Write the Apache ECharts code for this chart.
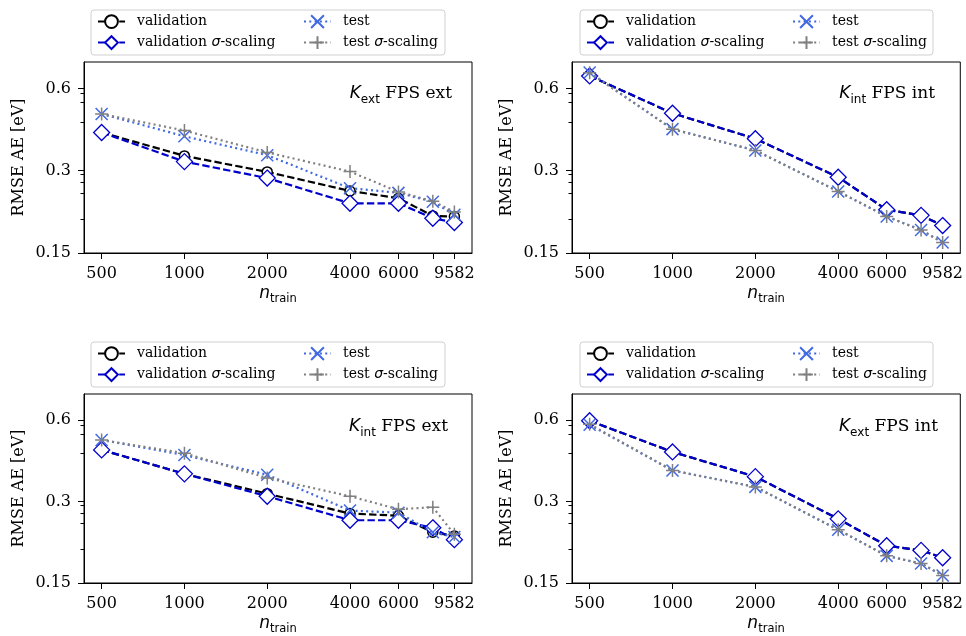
<!DOCTYPE html>
<html>
<head>
<meta charset="utf-8">
<title>RMSE AE learning curves</title>
<script src="https://cdn.jsdelivr.net/npm/echarts@6/dist/echarts.min.js"></script>
<style>
  html, body { margin: 0; padding: 0; background: #fff; }
  #chart { width: 966px; height: 636px; }
</style>
</head>
<body>
<div id="chart"></div>
<script>
// Training set sizes
const nTrain = [500, 1000, 2000, 4000, 6000, 8000, 9582];

// Axis ticks and labels
const xTickValues = [500, 1000, 2000, 4000, 6000, 8000, 9582];
const xLabelValues = [500, 1000, 2000, 4000, 6000, 9582];
const yTickValues = [0.15, 0.3, 0.6];
const yMinorTicks = [0.575, 0.533, 0.451, 0.292, 0.272, 0.249, 0.2];
const xRange = [431.4, 11106];
const yRange = [0.15, 0.75];

// Series names
const seriesNames = ['validation', 'validation σ-scaling', 'test', 'test σ-scaling'];

// Panel titles: [kernel subscript, split label]
const panelKernel = ['ext', 'int', 'int', 'ext'];
const panelSplit = ['FPS ext', 'FPS int', 'FPS ext', 'FPS int'];

// RMSE AE [eV] — K_ext, FPS ext
const extExtVal      = [0.414, 0.340, 0.297, 0.253, 0.238, 0.205, 0.204];
const extExtValSigma = [0.414, 0.324, 0.282, 0.228, 0.228, 0.201, 0.194];
const extExtTest     = [0.484, 0.401, 0.342, 0.259, 0.249, 0.231, 0.207];
const extExtTestSigma= [0.484, 0.421, 0.350, 0.298, 0.251, 0.232, 0.212];

// RMSE AE [eV] — K_int, FPS int
const intIntVal      = [0.667, 0.487, 0.393, 0.284, 0.216, 0.206, 0.189];
const intIntValSigma = [0.667, 0.487, 0.393, 0.284, 0.216, 0.206, 0.189];
const intIntTest     = [0.687, 0.426, 0.356, 0.252, 0.204, 0.182, 0.164];
const intIntTestSigma= [0.685, 0.426, 0.356, 0.252, 0.204, 0.182, 0.164];

// RMSE AE [eV] — K_int, FPS ext
const intExtVal      = [0.466, 0.380, 0.321, 0.271, 0.266, 0.231, 0.224];
const intExtValSigma = [0.466, 0.380, 0.314, 0.256, 0.256, 0.240, 0.217];
const intExtTest     = [0.507, 0.446, 0.377, 0.278, 0.273, 0.231, 0.222];
const intExtTestSigma= [0.507, 0.453, 0.367, 0.314, 0.281, 0.286, 0.227];

// RMSE AE [eV] — K_ext, FPS int
const extIntVal      = [0.597, 0.458, 0.371, 0.259, 0.206, 0.198, 0.186];
const extIntValSigma = [0.597, 0.458, 0.371, 0.259, 0.206, 0.198, 0.186];
const extIntTest     = [0.577, 0.391, 0.340, 0.236, 0.189, 0.177, 0.160];
const extIntTestSigma= [0.580, 0.391, 0.340, 0.236, 0.189, 0.177, 0.160];

const panelData = [
  [extExtVal, extExtValSigma, extExtTest, extExtTestSigma],
  [intIntVal, intIntValSigma, intIntTest, intIntTestSigma],
  [intExtVal, intExtValSigma, intExtTest, intExtTestSigma],
  [extIntVal, extIntValSigma, extIntTest, extIntTestSigma]
];

// Layout of the 2x2 panels
const grids = [
  { left: 84,  top: 62,  width: 388, height: 191 },
  { left: 572, top: 62,  width: 389, height: 191 },
  { left: 84,  top: 394, width: 388, height: 192 },
  { left: 572, top: 394, width: 389, height: 192 }
];
const legendBoxes = [
  { x: 91,  y: 10,  w: 354, h: 45 },
  { x: 580, y: 10,  w: 353, h: 45 },
  { x: 91,  y: 342, w: 354, h: 45 },
  { x: 580, y: 342, w: 353, h: 45 }
];
const titlePos = [
  { right: 514, top: 82 },
  { right: 31,  top: 82 },
  { right: 518, top: 415 },
  { right: 28,  top: 415 }
];

const SERIF = 'DejaVu Serif';
const SANS = 'DejaVu Sans';

const styles = [
  { // validation
    color: '#000000',
    lineStyle: { color: '#000000', width: 2.2, type: [7.4, 3.2] },
    symbol: 'circle', symbolSize: 10,
    itemStyle: { color: '#ffffff', borderColor: '#000000', borderWidth: 1.5 }
  },
  { // validation sigma-scaling
    color: '#0000cd',
    lineStyle: { color: '#0000cd', width: 2.2, type: [7.4, 3.2] },
    symbol: 'diamond', symbolSize: [16, 16],
    itemStyle: { color: '#ffffff', borderColor: '#0000cd', borderWidth: 1.3 }
  },
  { // test
    color: '#4169e1',
    lineStyle: { color: '#4169e1', width: 2.2, type: [2, 3.3] },
    symbol: 'path://M0 0L10 10M10 0L0 10', symbolSize: 12,
    itemStyle: { color: 'rgba(0,0,0,0)', borderColor: '#4169e1', borderWidth: 1.5 }
  },
  { // test sigma-scaling
    color: '#808080',
    lineStyle: { color: '#808080', width: 2.2, type: [2, 3.3] },
    symbol: 'path://M5 0L5 10M0 5L10 5', symbolSize: 13,
    itemStyle: { color: 'rgba(0,0,0,0)', borderColor: '#808080', borderWidth: 1.5 }
  }
];

const xAxes = [], yAxes = [], series = [], legends = [], titles = [], graphics = [];

grids.forEach((g, gi) => {
  xAxes.push({
    gridIndex: gi, type: 'log', min: xRange[0], max: xRange[1],
    name: '{n|n}{sub|train}', nameLocation: 'middle', nameGap: 30,
    nameTextStyle: {
      color: '#000',
      rich: {
        n: { fontFamily: SANS, fontStyle: 'italic', fontSize: 17, lineHeight: 22, color: '#000' },
        sub: { fontFamily: SANS, fontSize: 11.5, lineHeight: 11, verticalAlign: 'bottom', color: '#000' }
      }
    },
    axisLine: { show: true, lineStyle: { color: '#000', width: 1 } },
    axisTick: { show: true, customValues: xTickValues, length: 6, lineStyle: { color: '#000' } },
    axisLabel: {
      customValues: xLabelValues, margin: 13, color: '#000',
      fontFamily: SERIF, fontSize: 16,
      formatter: v => String(Math.round(v))
    },
    splitLine: { show: false }, minorTick: { show: false }
  });
  yAxes.push({
    gridIndex: gi, type: 'log', min: yRange[0], max: yRange[1], position: 'left',
    name: 'RMSE AE [eV]', nameLocation: 'middle', nameGap: 57,
    nameTextStyle: { fontFamily: SERIF, fontSize: 16, color: '#000' },
    axisLine: { show: true, lineStyle: { color: '#000', width: 1 } },
    axisTick: { show: true, customValues: yTickValues, length: 6, lineStyle: { color: '#000' } },
    axisLabel: {
      customValues: yTickValues, margin: 13, color: '#000',
      fontFamily: SERIF, fontSize: 16,
      formatter: v => String(+(+v).toPrecision(2))
    },
    splitLine: { show: false }
  });
  // minor ticks on the log y axis
  yAxes.push({
    gridIndex: gi, type: 'log', min: yRange[0], max: yRange[1], position: 'left',
    axisLine: { show: false },
    axisTick: { show: true, customValues: yMinorTicks, length: 3.5, lineStyle: { color: '#000' } },
    axisLabel: { show: false },
    splitLine: { show: false }
  });

  panelData[gi].forEach((vals, si) => {
    const st = styles[si];
    series.push({
      name: seriesNames[si], type: 'line',
      xAxisIndex: gi, yAxisIndex: gi * 2,
      data: nTrain.map((n, i) => [n, vals[i]]),
      color: st.color, lineStyle: st.lineStyle,
      symbol: st.symbol, symbolSize: st.symbolSize, itemStyle: st.itemStyle,
      showAllSymbol: true, silent: true, z: 2 + si
    });
  });

  const lb = legendBoxes[gi];
  graphics.push({
    type: 'rect', z: 1,
    shape: { x: lb.x, y: lb.y, width: lb.w, height: lb.h, r: 3 },
    style: { fill: 'rgba(255,255,255,0.8)', stroke: '#d0d0d0', lineWidth: 1 }
  });
  const legendCommon = {
    orient: 'vertical', top: lb.y - 0.8, itemWidth: 27, itemHeight: 16, itemGap: 6.2,
    selectedMode: false, z: 5,
    formatter: name => name.replace('σ', '{s|σ}'),
    textStyle: {
      fontFamily: SERIF, fontSize: 14, color: '#000', padding: [0, 0, 0, 7],
      rich: { s: { fontFamily: SANS, fontStyle: 'italic', fontSize: 14, color: '#000' } }
    }
  };
  legends.push(Object.assign({}, legendCommon, { left: lb.x + 1, data: [seriesNames[0], seriesNames[1]] }));
  legends.push(Object.assign({}, legendCommon, { left: lb.x + 207, data: [seriesNames[2], seriesNames[3]] }));

  titles.push({
    text: '{k|K}{sub|' + panelKernel[gi] + '}{m| ' + panelSplit[gi] + '}',
    right: titlePos[gi].right, top: titlePos[gi].top, padding: 0,
    textStyle: {
      fontWeight: 'normal',
      rich: {
        k: { fontFamily: SANS, fontStyle: 'italic', fontWeight: 'normal', fontSize: 17, lineHeight: 24, color: '#000' },
        sub: { fontFamily: SANS, fontWeight: 'normal', fontSize: 12, lineHeight: 12, verticalAlign: 'bottom', color: '#000' },
        m: { fontFamily: SERIF, fontWeight: 'normal', fontSize: 17, lineHeight: 24, color: '#000' }
      }
    }
  });
});

const chart = echarts.init(document.getElementById('chart'), null, { renderer: 'canvas' });
chart.setOption({
  animation: false,
  backgroundColor: '#ffffff',
  title: titles,
  legend: legends,
  grid: grids.map(g => Object.assign({ show: true, borderColor: '#000', borderWidth: 1, backgroundColor: 'transparent' }, g)),
  xAxis: xAxes,
  yAxis: yAxes,
  series: series,
  graphic: graphics
});
</script>
</body>
</html>
